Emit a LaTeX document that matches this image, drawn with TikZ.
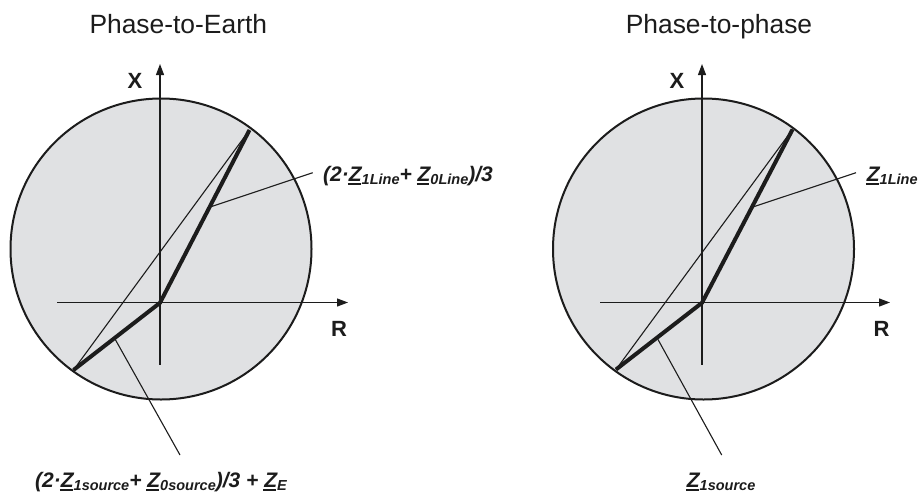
\documentclass[tikz,border=0pt]{standalone}
\usepackage{fontspec}
\setmainfont{Liberation Sans}
\usetikzlibrary{arrows.meta}
\definecolor{diskgray}{RGB}{224,225,227}
\definecolor{ink}{RGB}{28,28,28}
\newcommand\uZ{{\setbox0\hbox{Z}\rlap{\kern-1pt\rule[-4.3pt]{\wd0}{2.2pt}}Z}}
\newcommand\zsub[1]{\raisebox{-3.8pt}{\fontsize{14.5}{16}\selectfont #1}}
\tikzset{
  zone/.style={draw=ink, line width=2pt, fill=diskgray},
  axis/.style={draw=ink, line width=1.2pt, -{Triangle[length=11pt,width=8pt]}},
  chord/.style={draw=ink, line width=1.1pt},
  imp/.style={draw=ink, line width=4pt, line join=round},
  leader/.style={draw=ink, line width=1.1pt},
  axlabel/.style={inner sep=0pt, font=\fontsize{22}{26}\selectfont\bfseries, text=ink},
  lbl/.style={inner sep=0pt, font=\fontsize{21}{25}\selectfont\bfseries\itshape, text=ink},
  ttl/.style={inner sep=0pt, font=\fontsize{26.4}{30}\selectfont, text=ink}
}
\begin{document}
\begin{tikzpicture}[x=1pt,y=-1pt]
\useasboundingbox (0,0) rectangle (920,493);
\fill[white] (0,0) rectangle (920,493);

% ---------- Left panel: Phase-to-Earth ----------
\node[ttl, anchor=base] (L-title) at (178.3,33) {Phase-to-Earth};
\coordinate (L-c) at (161,249);
\draw[zone] (L-c) circle[radius=150.5];
\coordinate (L-xs) at (57,302.5);
\coordinate (L-xe) at (348,302.5);
\coordinate (L-ys) at (160,364.5);
\coordinate (L-ye) at (160,64);
\draw[axis] (L-xs) -- (L-xe);
\draw[axis] (L-ys) -- (L-ye);
\coordinate (L-o) at (160,302.8);
\coordinate (L-a) at (73.5,370);
\coordinate (L-b) at (249.5,130);
\draw[chord] (L-a) -- (L-b);
\draw[imp] (L-a) -- (L-o) -- (L-b);
\node[axlabel, anchor=base] (L-X) at (135,88.5) {X};
\node[axlabel, anchor=base] (L-R) at (339,336.5) {R};
\coordinate (L-p) at (210.8,206.8);
\coordinate (L-pe) at (312.7,172.7);
\draw[leader] (L-p) -- (L-pe);
\node[lbl, anchor=base west] (L-t1) at (323,181) {(2·\uZ\zsub{1Line}+ \uZ\zsub{0Line})/3};
\coordinate (L-q) at (115.3,339.5);
\coordinate (L-qe) at (180,455);
\draw[leader] (L-q) -- (L-qe);
\node[lbl, anchor=base west] (L-t2) at (35,487) {(2·\uZ\zsub{1source}+ \uZ\zsub{0source})/3 + \uZ\zsub{E}};

% ---------- Right panel: Phase-to-phase ----------
\begin{scope}[xshift=542pt]
\node[ttl, anchor=base] (R-title) at (177,33) {Phase-to-phase};
\coordinate (R-c) at (161.5,249);
\draw[zone] (R-c) circle[radius=150.5];
\coordinate (R-xs) at (58,302.5);
\coordinate (R-xe) at (348,302.5);
\coordinate (R-ys) at (160,364.5);
\coordinate (R-ye) at (160,64);
\draw[axis] (R-xs) -- (R-xe);
\draw[axis] (R-ys) -- (R-ye);
\coordinate (R-o) at (160,302.8);
\coordinate (R-a) at (74,369.5);
\coordinate (R-b) at (250.5,129.5);
\draw[chord] (R-a) -- (R-b);
\draw[imp] (R-a) -- (R-o) -- (R-b);
\node[axlabel, anchor=base] (R-X) at (135,88.5) {X};
\node[axlabel, anchor=base] (R-R) at (339.5,336.5) {R};
\coordinate (R-p) at (211.5,206.8);
\coordinate (R-pe) at (314,172.7);
\draw[leader] (R-p) -- (R-pe);
\node[lbl, anchor=base west] (R-t1) at (324.7,181) {\uZ\zsub{1Line}};
\coordinate (R-q) at (116,339.5);
\coordinate (R-qe) at (179.7,455);
\draw[leader] (R-q) -- (R-qe);
\node[lbl, anchor=base west] (R-t2) at (144.7,487) {\uZ\zsub{1source}};
\end{scope}
\end{tikzpicture}
\end{document}
